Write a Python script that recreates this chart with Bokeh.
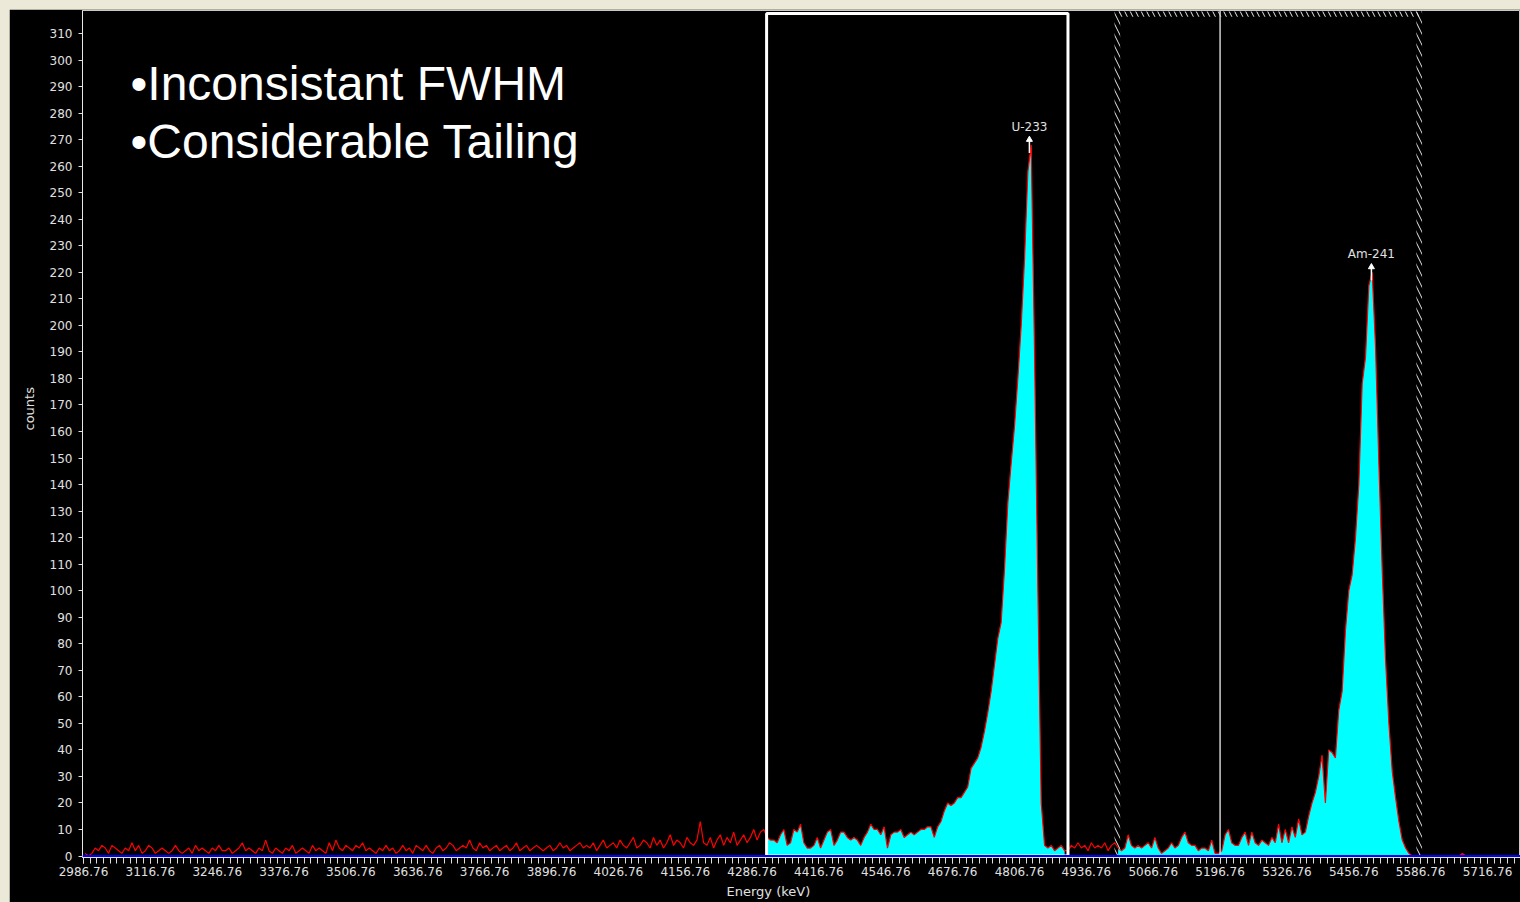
import numpy as np
from bokeh.plotting import figure
from bokeh.models import FixedTicker, Span, Label, PrintfTickFormatter, Title
from bokeh.layouts import column
from bokeh.core.properties import value
from bokeh.embed import file_html
from bokeh.resources import INLINE

# ---------------- data ----------------
bin_start = 2986.76      # keV, first channel edge
bin_width = 6.5          # keV per bin

counts_background = [
    1, 0, 1, 3, 2, 4, 3, 1, 4, 3, 2, 1, 3, 2, 5, 2, 4, 1, 2, 4,
    3, 1, 2, 3, 2, 1, 2, 4, 2, 1, 2, 3, 1, 4, 2, 3, 2, 1, 3, 2,
    4, 2, 2, 3, 1, 2, 3, 5, 2, 3,
    2, 1, 3, 2, 6, 2, 1, 3, 2, 1, 3, 2, 4, 1, 2, 3, 2, 1, 4, 2,
    3, 2, 1, 5, 2, 6, 3, 2, 4, 3, 2, 4, 3, 5, 2, 3, 2, 1, 3, 2,
    4, 2, 3, 1, 2, 4, 2, 3, 1, 4,
    3, 2, 4, 2, 1, 3, 4, 2, 3, 5, 4, 2, 3, 4, 3, 6, 3, 2, 5, 3,
    4, 2, 3, 4, 2, 3, 4, 2, 3, 5, 2, 3, 4, 2, 3, 4, 3, 2, 3, 4,
    2, 3, 5, 3, 4, 2, 3, 4, 5, 3,
    4, 3, 5, 2, 4, 6, 3, 4, 5, 3, 6, 4, 3, 5, 7, 3, 4, 6, 5, 3,
    7, 4, 6, 3, 5, 8, 4, 6, 5, 3, 7, 5, 4, 6, 13, 5, 4, 7, 3, 6,
    8, 4, 7, 5, 9, 4, 6, 8, 5, 7, 10, 6, 9,
]

counts_u233_region = [
    10, 7, 6, 6, 5, 8, 10, 4, 5, 10, 9, 12, 5, 3, 3, 4, 7, 3, 6, 9,
    10, 4, 6, 9, 9, 7, 6, 7, 6, 4, 7, 9, 12, 10, 10, 8, 11, 3, 8, 9,
    9, 10, 7, 8, 9, 8, 9, 10, 10, 11, 11, 7,
    11, 13, 17, 20, 19, 20, 22, 22, 24, 26, 33, 35, 37, 41, 47, 54, 62, 72, 82, 88,
    108, 133, 148, 162, 180, 200, 225, 258, 268, 190, 100, 20, 4, 3, 4, 2, 3, 4, 2,
    2, 4, 3, 5, 3, 4, 2, 5, 3, 4, 3, 5, 2, 4, 5,
]

counts_am241_region = [
    3, 2, 3, 8, 4, 3, 4, 3, 4, 5, 3, 7, 3, 1, 2, 3, 5, 3, 4, 7,
    9, 5, 4, 4, 2, 3, 3, 2, 6, 1, 1, 2, 8, 10, 5, 4, 4, 7, 9, 4,
    9, 5, 4, 6, 5, 4, 7, 5, 12, 5, 10, 5, 11, 7, 14, 8, 9,
    15, 20, 24, 30, 38, 20, 40, 39, 37, 55, 62, 85, 100, 106, 120, 140, 178, 188, 215, 220,
    192, 148, 108, 74, 50, 32, 22, 13, 6, 3, 1, 0, 0,
    0, 0, 0, 0, 0, 0, 0, 0, 0, 0, 0, 0, 0, 1, 0, 0, 0, 0, 0, 0,
    0, 0, 0, 0, 0, 0, 0, 0, 0, 0,
]

roi_bounds = [(4315.0, 4901.0), (4997.0, 5584.0)]   # keV
marker_line_energy = 5196.76
peak_names = ["U-233", "Am-241"]
peak_energy = [4826.0, 5491.0]
peak_top = [270.0, 222.0]

x_tick_labels = ["2986.76", "3116.76", "3246.76", "3376.76", "3506.76", "3636.76",
                 "3766.76", "3896.76", "4026.76", "4156.76", "4286.76", "4416.76",
                 "4546.76", "4676.76", "4806.76", "4936.76", "5066.76", "5196.76",
                 "5326.76", "5456.76", "5586.76", "5716.76"]
y_ticks = list(range(0, 320, 10))
x_title = "Energy (keV)"
y_title = "counts"
note_lines = ["\u2022Inconsistant FWHM", "\u2022Considerable Tailing"]

# ---------------- derived ----------------
counts = np.array(counts_background + counts_u233_region + counts_am241_region, dtype=float)
energy = bin_start + bin_width * (np.arange(len(counts)) + 0.5)
x_ticks = [float(s) for s in x_tick_labels]
minor_ticks = [bin_start + 13.0 * j for j in range(0, 216)]

x_lo, x_hi = 2984.82, 5780.9
y_lo, y_hi = -0.565, 318.67

p = figure(width=1511, height=893, x_range=(x_lo, x_hi), y_range=(y_lo, y_hi),
           output_backend="svg", toolbar_location=None,
           background_fill_color="black", border_fill_color="black",
           min_border_left=73, min_border_right=0, min_border_top=1, min_border_bottom=45)
p.margin = (9, 0, 0, 9)
p.grid.visible = False
p.outline_line_color = "#c8c8c8"
p.outline_line_width = 1

# cyan ROI fills
for lo, hi in roi_bounds:
    m = (energy >= lo) & (energy <= hi)
    p.varea(x=energy[m], y1=np.zeros(m.sum()), y2=counts[m], fill_color="#00ffff")

# red spectrum trace
p.line(energy, counts, line_color="#ff0000", line_width=1.2)

# ROI 1 : solid white box
r1 = roi_bounds[0]
p.quad(left=[r1[0]], right=[r1[1]], bottom=[0], top=[y_hi - 1.1],
       fill_alpha=0, line_color="white", line_width=3)

# ROI 2 : hatched border
r2 = roi_bounds[1]
hw = 5.5  # keV half width of the hatched strips
hatch = dict(fill_alpha=0, line_alpha=0, hatch_pattern="left_diagonal_line",
             hatch_color="#e8e8e8", hatch_weight=1.0, hatch_scale=11, hatch_alpha=1.0)
p.quad(left=[r2[0] - hw, r2[1] - hw, r2[0]], right=[r2[0] + hw, r2[1] + hw, r2[1]],
       bottom=[0, 0, y_hi - 2.4], top=[y_hi - 0.4, y_hi - 0.4, y_hi - 0.4], **hatch)

p.add_layout(Span(location=marker_line_energy, dimension="height",
                  line_color="#d0d0d0", line_width=1.5))

# baseline
p.add_layout(Span(location=0, dimension="width", line_color="#0000ff", line_width=2))

# peak markers
p.segment(x0=peak_energy, y0=[t - 5 for t in peak_top], x1=peak_energy, y1=peak_top,
          line_color="white", line_width=1.5)
p.scatter(x=peak_energy, y=peak_top, marker="triangle", size=6,
          fill_color="white", line_color="white")
p.text(x=peak_energy, y=peak_top, text=peak_names, y_offset=-6,
       text_align="center", text_baseline="bottom",
       text_font=value("DejaVu Sans"), text_font_size="12px", text_color="#e0e0e0")

# axes
xa = p.xaxis[0]
ya = p.yaxis[0]
xa.ticker = FixedTicker(ticks=x_ticks, minor_ticks=minor_ticks)
xa.formatter = PrintfTickFormatter(format="%.2f")
ya.ticker = FixedTicker(ticks=y_ticks)
for ax in (xa, ya):
    ax.axis_line_color = "#e8e8e8"
    ax.axis_line_width = 1
    ax.major_tick_line_color = "#e0e0e0"
    ax.minor_tick_line_color = "#e0e0e0"
    ax.major_label_text_color = "#e0e0e0"
    ax.major_label_text_font = "DejaVu Sans"
    ax.major_label_text_font_size = "12px"
xa.major_tick_out = 6
xa.major_tick_in = 0
xa.minor_tick_out = 6
xa.minor_tick_in = 0
xa.major_label_standoff = 3
ya.major_tick_out = 4
ya.major_tick_in = 0
ya.minor_tick_line_color = None
ya.major_label_standoff = 6

# axis titles as side titles (offset only applies to left/right alignment)
p.add_layout(Title(text=x_title, align="left", offset=644, standoff=7,
                   text_font="DejaVu Sans", text_font_size="13px",
                   text_font_style="normal", text_color="#e0e0e0"), "below")
p.add_layout(Title(text=y_title, align="left", offset=427, standoff=20,
                   text_font="DejaVu Sans", text_font_size="13px",
                   text_font_style="normal", text_color="#e0e0e0"), "left")

# slide notes
for txt, yb in zip(note_lines, [774, 716]):
    p.add_layout(Label(x=48, y=yb, x_units="screen", y_units="screen", text=txt,
                       text_baseline="middle", text_align="left",
                       text_font="Liberation Sans", text_font_size="48px",
                       text_color="white"))

layout = column(p, styles={"background-color": "#ece9d8"})
open("out.html", "w").write(file_html(layout, INLINE))
